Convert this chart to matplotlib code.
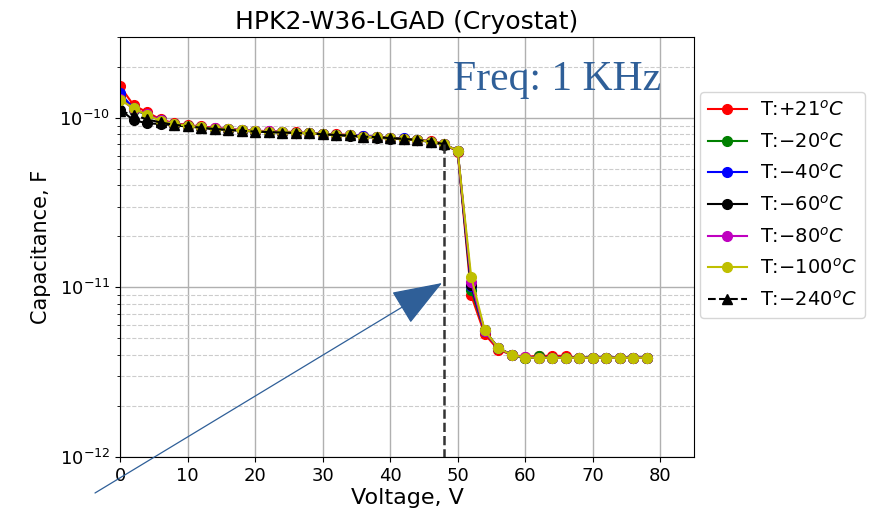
import matplotlib
matplotlib.use("Agg")
import matplotlib.pyplot as plt
from matplotlib.patches import FancyArrowPatch

# Bias voltage (V), same grid for all scans
volts = list(range(0, 80, 2))
volts_240 = list(range(0, 50, 2))

# Capacitance in pF
cap_p21 = [154, 119, 108, 98, 93, 91, 89, 87.5, 86, 85, 84, 83.5, 83, 82.5, 81.5, 80.5,
           80, 79.5, 78, 77.5, 76.5, 75.5, 74.5, 73, 70.5, 63, 9.0, 5.3, 4.3, 4.0,
           3.9, 3.95, 3.95, 3.95, 3.85, 3.85, 3.85, 3.85, 3.85, 3.85]
cap_m20 = [135, 112, 104, 97, 92, 90, 88, 86.5, 85.5, 84.5, 83.5, 83, 82.5, 82, 81.2, 80.2,
           79.5, 79, 77.6, 77, 76, 75.2, 74.2, 72.5, 70, 64, 9.7, 5.5, 4.4, 4.0,
           3.85, 3.92, 3.85, 3.85, 3.85, 3.85, 3.85, 3.85, 3.85, 3.85]
cap_m40 = [140, 114, 104, 97, 92, 90, 88, 86.5, 85.5, 84.5, 83.5, 83, 82.5, 82, 81.2, 80.2,
           79.5, 79, 78.5, 77, 76, 75.6, 74.2, 72.5, 70, 64, 10.2, 5.5, 4.4, 4.0,
           3.85, 3.85, 3.85, 3.85, 3.85, 3.85, 3.85, 3.85, 3.85, 3.85]
cap_m60 = [112, 97, 93, 92, 90.5, 89, 87.5, 86, 85, 84, 83, 82.5, 82, 81.5, 81, 80,
           79, 78.5, 77, 76.5, 75.5, 74.8, 74, 72, 69.5, 64, 10.4, 5.6, 4.4, 4.0,
           3.85, 3.85, 3.85, 3.85, 3.85, 3.85, 3.85, 3.85, 3.85, 3.85]
cap_m80 = [130, 113, 105, 97, 92.5, 90, 88.5, 87, 86, 85, 84, 83.5, 82.8, 82, 81.2, 80.2,
           79.5, 79, 77.6, 77, 76, 75.2, 74.2, 72.5, 70, 64, 10.7, 5.5, 4.4, 4.0,
           3.9, 3.85, 3.85, 3.85, 3.85, 3.85, 3.85, 3.85, 3.85, 3.85]
cap_m100 = [128, 114, 104, 96, 92, 90, 88, 86.5, 85.5, 84.5, 83.5, 83, 82.5, 82, 81.2, 80.2,
            79.5, 79, 77.6, 77, 76, 75.2, 74.2, 72.5, 70, 64, 11.6, 5.6, 4.4, 4.0,
            3.85, 3.85, 3.85, 3.85, 3.85, 3.85, 3.85, 3.85, 3.85, 3.85]
cap_m240 = [110, 104, 98, 94, 91, 89.5, 87.5, 86, 85, 84, 83, 82.5, 82, 81.5, 81, 80,
            79.3, 78.8, 77.5, 77, 76, 75.2, 74.2, 72.5, 70]

labels = ["T:$+21^oC$", "T:$-20^oC$", "T:$-40^oC$", "T:$-60^oC$",
          "T:$-80^oC$", "T:$-100^oC$"]
colors = ["r", "g", "b", "k", "m", "y"]
scans = [cap_p21, cap_m20, cap_m40, cap_m60, cap_m80, cap_m100]

pF = 1e-12
ymin = 1e-12

fig = plt.figure(figsize=(8.77, 5.12), dpi=100)
ax = fig.add_axes([120 / 877, 1 - 457 / 512, 574 / 877, 420 / 512])

for cap, col, lab in zip(scans, colors, labels):
    ax.plot(volts, [c * pF for c in cap], color=col, marker="o", markersize=7,
            linewidth=1.5, label=lab)

c240 = [c * pF for c in cap_m240]
ax.plot(volts_240, c240, "k^--", markersize=7, linewidth=1.5, label="T:$-240^oC$")
# breakdown at the last point of the -240 scan
ax.plot([volts_240[-1]] * 2, [c240[-1], ymin], "--", color="#333333", linewidth=1.8)

ax.set_yscale("log")
ax.set_xlim(0, 85)
ax.set_ylim(ymin, 3e-10)
ax.set_xticks(range(0, 90, 10))
ax.grid(True, which="major", color="#b0b0b0", linewidth=1)
ax.grid(True, which="minor", axis="y", color="#cccccc", linestyle="--", linewidth=0.8)
ax.tick_params(labelsize=13)
ax.set_xlabel("Voltage, V", fontsize=16, labelpad=2)
ax.set_ylabel("Capacitance, F", fontsize=15, labelpad=6)
ax.set_title("HPK2-W36-LGAD (Cryostat)", fontsize=18, pad=6)

ax.legend(loc="upper left", bbox_to_anchor=(700 / 877, 1 - 92 / 512),
          bbox_transform=fig.transFigure, fontsize=14, borderaxespad=0,
          labelspacing=0.6, handletextpad=0.7)

fig.text(453 / 877, 1 - 90 / 512, "Freq: 1 KHz", family="Liberation Serif",
         fontsize=30, color="#2f5f98", va="baseline")

arrow = FancyArrowPatch((95 / 877, 1 - 493 / 512), (442 / 877, 1 - 283 / 512),
                        transform=fig.transFigure, color="#2f5f98", linewidth=0.9,
                        arrowstyle="-|>,head_length=2.3,head_width=0.85",
                        mutation_scale=14, shrinkA=0, shrinkB=0, clip_on=False)
fig.add_artist(arrow)

fig.savefig("out.png", dpi=100)
